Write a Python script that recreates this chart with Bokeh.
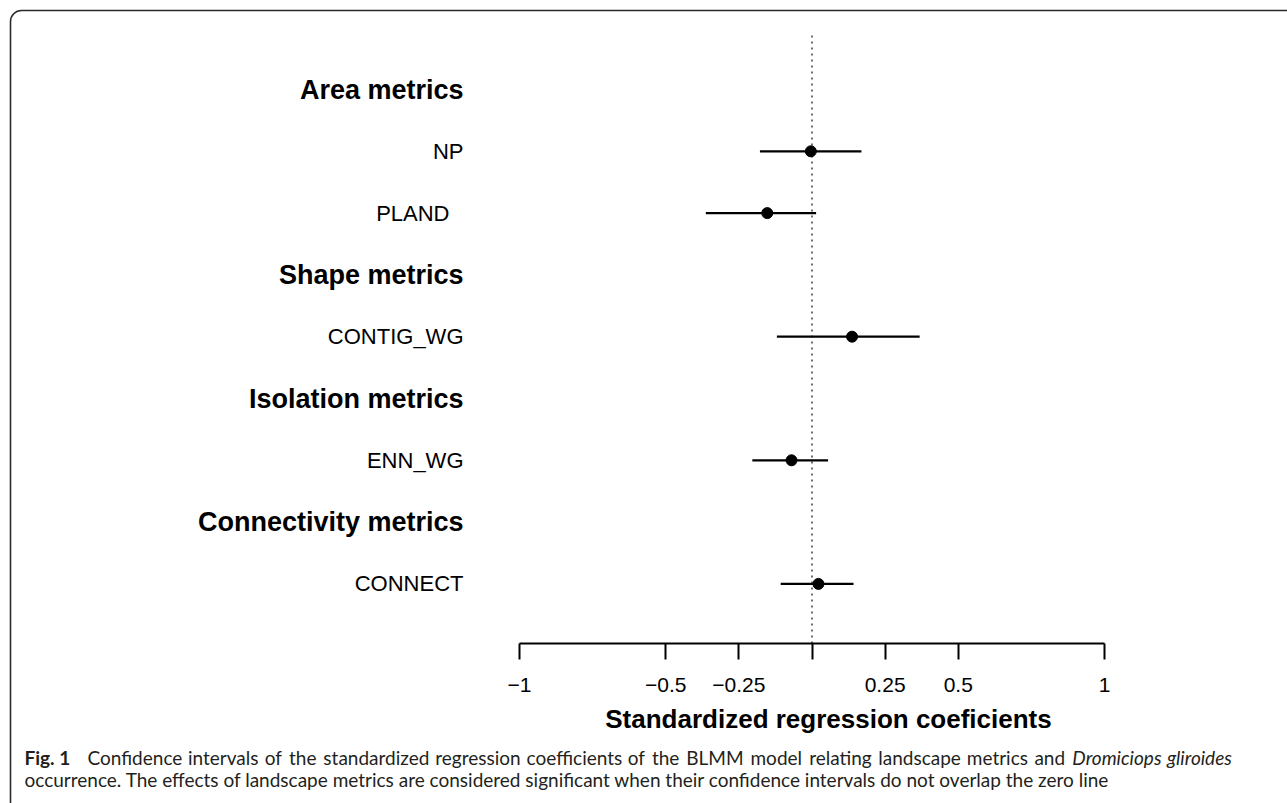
from bokeh.plotting import figure
from bokeh.models import (ColumnDataSource, Range1d, LinearAxis, FixedTicker,
                          Label, BoxAnnotation)
from bokeh.core.properties import value
from bokeh.embed import file_html
from bokeh.resources import INLINE

# ---------------- data ----------------
row_labels = ["Area metrics", "NP", "PLAND", "Shape metrics", "CONTIG_WG",
              "Isolation metrics", "ENN_WG", "Connectivity metrics", "CONNECT"]
row_is_header = [True, False, False, True, False, True, False, True, False]
metrics = ["NP", "PLAND", "CONTIG_WG", "ENN_WG", "CONNECT"]
estimate = [-0.004, -0.153, 0.137, -0.070, 0.022]
ci_lower = [-0.178, -0.363, -0.120, -0.204, -0.107]
ci_upper = [0.169, 0.014, 0.368, 0.055, 0.142]
tick_values = [-1, -0.5, -0.25, 0, 0.25, 0.5, 1]
tick_labels = ["\u22121", "\u22120.5", "\u22120.25", "", "0.25", "0.5", "1"]
axis_title = "Standardized regression coeficients"
caption_bold = "Fig. 1"
caption_line1 = ("Confidence intervals of the standardized regression coefficients "
                 "of the BLMM model relating landscape metrics and")
caption_species = "Dromiciops gliroides"
caption_line2 = ("occurrence. The effects of landscape metrics are considered significant "
                 "when their confidence intervals do not overlap the zero line")

# ---------------- layout ----------------
W, H = 1287, 803
AXIS_PX = 643
ZERO_PX = 811.5
PX_PER_UNIT = 292.5
FIRST_ROW_PX = 89
ROW_PX = 61.8
LABEL_RIGHT_PX = 463
TITLE_X_PX = 828
TITLE_Y_PX = 718

n = len(row_labels)
row_y = [n - i for i in range(n)]
y_of = {lab: y for lab, y in zip(row_labels, row_y)}


def y_at(px):
    return n - (px - FIRST_ROW_PX) / ROW_PX


def x_at(px):
    return (px - ZERO_PX) / PX_PER_UNIT


x_range = Range1d(x_at(0), x_at(W))
y_range = Range1d(y_at(H), y_at(0))

p = figure(width=W, height=H, x_range=x_range, y_range=y_range,
           output_backend="svg", toolbar_location=None,
           x_axis_type=None, y_axis_type=None, min_border=0)
p.outline_line_color = None
p.background_fill_color = "white"
p.border_fill_color = "white"
p.xgrid.visible = False
p.ygrid.visible = False

FONT = "Liberation Sans"
label_x = x_at(LABEL_RIGHT_PX)

hdr = ColumnDataSource(dict(
    x=[label_x] * sum(row_is_header),
    y=[y for y, h in zip(row_y, row_is_header) if h],
    text=[l for l, h in zip(row_labels, row_is_header) if h]))
p.text(x="x", y="y", text="text", source=hdr, text_align="right",
       text_baseline="middle", text_font=value(FONT), text_font_style="bold",
       text_font_size="27px", text_color="black")

met_offsets = [-14 if m == "PLAND" else 0 for m in metrics]
met = ColumnDataSource(dict(
    x=[label_x] * len(metrics), y=[y_of[m] for m in metrics], text=metrics,
    xo=met_offsets))
p.text(x="x", y="y", text="text", source=met, x_offset="xo", text_align="right",
       text_baseline="middle", text_font=value(FONT), text_font_size="22px",
       text_color="black")

# zero reference line (dotted)
p.segment(x0=[0], y0=[y_at(AXIS_PX)], x1=[0], y1=[y_at(32)], line_color="#222222",
          line_width=1.3, line_dash="2 4")

src = ColumnDataSource(dict(y=[y_of[m] for m in metrics], est=estimate,
                            lo=ci_lower, hi=ci_upper))
p.segment(x0="lo", y0="y", x1="hi", y1="y", source=src, line_color="black",
          line_width=2.2)
p.scatter(x="est", y="y", source=src, size=11, color="black")

# x axis (fixed inside the frame)
ax = LinearAxis(ticker=FixedTicker(ticks=tick_values), bounds=(-1, 1),
                fixed_location=y_at(AXIS_PX))
ax.major_label_overrides = {v: t for v, t in zip(tick_values, tick_labels)}
ax.axis_line_width = 2
ax.axis_line_color = "black"
ax.major_tick_line_width = 2
ax.major_tick_line_color = "black"
ax.major_tick_in = 0
ax.major_tick_out = 16
ax.minor_tick_line_color = None
ax.major_label_standoff = 18
ax.major_label_text_font = FONT
ax.major_label_text_font_size = "21px"
ax.major_label_text_color = "black"
p.add_layout(ax, "below")

p.text(x=[x_at(TITLE_X_PX)], y=[y_at(TITLE_Y_PX)], text=[axis_title],
       text_align="center", text_baseline="middle", text_font=value(FONT),
       text_font_style="bold", text_font_size="26px", text_color="black")

# frame around the figure panel
p.add_layout(BoxAnnotation(left=10, right=1320, top=10, bottom=815,
                           left_units="canvas", right_units="canvas",
                           top_units="canvas", bottom_units="canvas",
                           fill_color=None, line_color="#2b2b2b", line_alpha=1.0,
                           line_width=1.6, border_radius=11))

# caption
CAP_FONT = "Lato"
CAP_SIZE = 19
CW = {' ': .193, 'a': .49, 'b': .55, 'c': .46, 'd': .55, 'e': .51, 'f': .32,
      'g': .50, 'h': .55, 'i': .24, 'k': .49, 'l': .24, 'm': .83, 'n': .55,
      'o': .55, 'p': .55, 'q': .55, 'r': .36, 's': .41, 't': .34, 'u': .55,
      'v': .49, 'w': .75, 'x': .48, 'y': .49, 'z': .44, 'B': .65, 'L': .52,
      'M': .90, 'C': .64, 'D': .72, '.': .2}


def est_w(word, style="normal"):
    k = 0.93 if style == "italic" else 1.0
    return sum(CW.get(c, .55) for c in word) * CAP_SIZE * k


def cap_label(text, x, y_px, style="normal"):
    p.add_layout(Label(x=x, y=H - y_px, x_units="screen", y_units="screen",
                       text=text, text_font=CAP_FONT, text_font_size=f"{CAP_SIZE}px",
                       text_font_style=style, text_color="#231f20",
                       text_baseline="middle", text_align="left"))


L1_Y, L2_Y = 757, 779
cap_label(caption_bold, 24, L1_Y, "bold")
words = [(w, "normal") for w in caption_line1.split()] + \
        [(w, "italic") for w in caption_species.split()]
start, end = 87, 1230
total = sum(est_w(w, st) for w, st in words)
gap = (end - start - total) / (len(words) - 1)
xpos = start
for w, st in words:
    cap_label(w, xpos, L1_Y, st)
    xpos += est_w(w, st) + gap
cap_label(caption_line2, 24, L2_Y)

open("out.html", "w").write(file_html(p, INLINE))
